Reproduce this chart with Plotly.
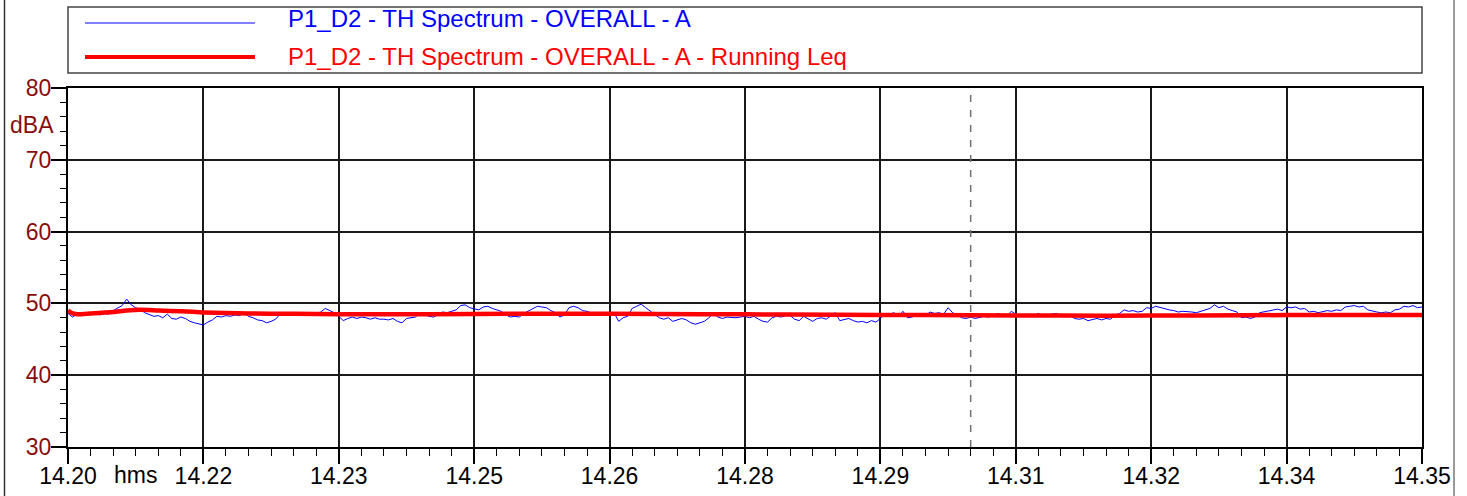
import plotly.graph_objects as go
import numpy as np

# ---------------- data ----------------
# time axis in minutes after 14:20:00 (0.05 min = 3 s steps)
blue_minute_values = [
    [48.6, 48.1, 48.5, 48.4, 48.6, 48.5, 48.7, 48.4, 48.6, 48.5, 49.0, 49.4, 49.7, 50.6, 49.8, 49.4, 49.2, 48.7, 48.4, 48.2],
    [48.3, 48.0, 48.5, 47.9, 47.8, 48.1, 47.9, 47.5, 47.3, 47.1, 47.0, 47.4, 47.7, 48.2, 48.1, 48.3, 48.2, 48.4, 48.3, 48.7],
    [48.2, 48.0, 47.7, 47.6, 47.3, 47.5, 47.8, 48.5, 48.7, 48.5, 48.4, 48.6, 48.5, 48.7, 48.5, 48.6, 48.8, 49.3, 49.0, 48.7],
    [48.2, 47.6, 47.9, 48.1, 47.9, 48.1, 48.0, 47.8, 48.0, 47.8, 47.8, 47.7, 47.9, 47.5, 47.3, 47.9, 48.0, 48.1, 48.7, 48.4],
    [48.2, 48.1, 48.5, 48.8, 48.7, 48.9, 49.1, 49.7, 49.8, 49.4, 49.3, 49.1, 49.5, 49.6, 49.3, 49.1, 48.9, 48.4, 48.1, 48.2],
    [48.1, 48.6, 48.9, 49.3, 49.6, 49.5, 49.4, 49.0, 48.7, 48.1, 48.4, 49.4, 49.6, 49.4, 49.0, 48.9, 48.6, 48.4, 48.5, 48.3],
    [48.5, 48.7, 47.5, 48.0, 48.2, 49.3, 49.6, 49.9, 49.4, 48.9, 48.4, 48.0, 47.8, 48.0, 47.5, 47.7, 47.9, 47.7, 47.3, 47.1],
    [47.3, 47.5, 48.0, 48.6, 48.1, 47.9, 48.1, 48.0, 48.0, 48.1, 48.2, 48.0, 48.2, 47.8, 47.5, 47.4, 48.0, 48.2, 48.1, 48.3],
    [48.3, 47.8, 47.6, 48.2, 47.9, 47.5, 47.9, 48.0, 47.8, 48.3, 48.7, 47.6, 47.7, 47.9, 47.6, 47.4, 47.5, 47.3, 47.6, 47.4],
    [47.9, 48.6, 48.5, 48.7, 48.2, 48.9, 48.0, 48.1, 48.4, 48.3, 48.3, 48.8, 48.6, 48.7, 48.5, 49.4, 48.7, 48.4, 48.0, 47.9],
    [48.1, 47.9, 48.0, 48.2, 48.1, 48.3, 48.6, 48.4, 48.2, 48.9, 48.5, 48.4, 48.3, 48.5, 48.3, 48.6, 48.3, 48.4, 48.5, 48.6],
    [48.3, 48.2, 48.3, 47.9, 47.8, 47.9, 47.6, 47.7, 47.9, 47.7, 47.9, 47.8, 48.4, 48.6, 49.1, 48.9, 49.0, 48.8, 48.9, 49.4],
    [49.3, 49.6, 49.4, 49.2, 49.1, 49.0, 48.8, 48.9, 48.9, 48.8, 48.7, 48.9, 49.1, 49.3, 49.8, 49.4, 49.6, 49.2, 49.0, 48.8],
    [48.0, 48.1, 47.9, 48.1, 48.7, 48.8, 48.9, 49.0, 49.2, 49.0, 49.5, 49.4, 49.5, 49.2, 49.3, 48.8, 48.9, 48.7, 48.8, 49.0],
    [48.9, 49.1, 49.0, 49.5, 49.6, 49.7, 49.5, 49.6, 49.1, 48.9, 48.8, 48.7, 48.8, 48.7, 49.1, 49.2, 49.6, 49.5, 49.7, 49.4],
]
blue_last_value = 49.5
blue_step_min = 0.05

leq_times = [0, 0.05, 0.1, 0.25, 0.5, 0.65, 0.8, 1.0, 1.25, 1.5, 2.0, 2.5, 3, 4, 5, 6, 7, 8, 9, 10, 11, 12, 13, 14, 15]
leq_values = [49.0, 48.6, 48.5, 48.6, 48.8, 49.0, 49.1, 49.0, 48.9, 48.75, 48.6, 48.55, 48.5, 48.5, 48.55, 48.55,
              48.5, 48.45, 48.4, 48.35, 48.3, 48.3, 48.35, 48.4, 48.4]

tick_minutes = [0, 1.5, 3, 4.5, 6, 7.5, 9, 10.5, 12, 13.5, 15]
tick_labels = ["14.20", "14.22", "14.23", "14.25", "14.26", "14.28", "14.29", "14.31", "14.32", "14.34", "14.35"]
cursor_minute = 10.0

series_names = ["P1_D2 - TH Spectrum - OVERALL - A",
                "P1_D2 - TH Spectrum - OVERALL - A - Running Leq"]

# ---------------- build ----------------
blue_values = [v for row in blue_minute_values for v in row] + [blue_last_value]
blue_times = [i * blue_step_min for i in range(len(blue_values))]

FONT = "Arial, Liberation Sans, sans-serif"
DARKRED = "#870d0d"
GRID = "#1a1a1a"

fig = go.Figure()
fig.add_trace(go.Scatter(x=blue_times, y=blue_values, mode="lines",
                         line=dict(color="#0000ff", width=1), name=series_names[0],
                         showlegend=False))
fig.add_trace(go.Scatter(x=leq_times, y=leq_values, mode="lines",
                         line=dict(color="#ff0000", width=4.5, shape="spline", smoothing=0.6),
                         name=series_names[1], showlegend=False))

W, H = 1467, 496
L, R, T, B = 68, 45, 88, 49
pw, ph = W - L - R, H - T - B


def px_x(x):
    return (x - L) / pw


def px_y(y):
    return (H - B - y) / ph


fig.update_layout(
    width=W, height=H,
    margin=dict(l=L, r=R, t=T, b=B, autoexpand=False),
    paper_bgcolor="white", plot_bgcolor="white",
    font=dict(family=FONT, size=23, color="black"),
    showlegend=False,
)

fig.update_xaxes(
    range=[0, 15], tickmode="array", tickvals=tick_minutes, ticktext=tick_labels,
    automargin=False,
    showgrid=True, gridcolor=GRID, gridwidth=2,
    showline=True, linecolor="black", linewidth=2, mirror=True,
    ticks="outside", ticklen=15, tickcolor="black", tickwidth=1.5,
    ticklabelstandoff=-8,
    tickfont=dict(family=FONT, size=23, color="black"),
    zeroline=False,
    minor=dict(tick0=0, dtick=0.25, ticks="outside", ticklen=7, tickcolor="black", tickwidth=1, showgrid=False),
)
fig.update_yaxes(
    range=[30, 80], tickmode="linear", tick0=0, dtick=10,
    automargin=False,
    showgrid=True, gridcolor=GRID, gridwidth=2,
    showline=True, linecolor="black", linewidth=2, mirror=True,
    ticks="outside", ticklen=15, tickcolor="black", tickwidth=1.5,
    ticklabelstandoff=-5,
    tickfont=dict(family=FONT, size=23, color=DARKRED),
    zeroline=False,
    minor=dict(tick0=0, dtick=2, ticks="outside", ticklen=6, tickcolor="black", tickwidth=1, showgrid=False),
)

# cursor line
fig.add_shape(type="line", xref="x", yref="paper", x0=cursor_minute, x1=cursor_minute, y0=0, y1=1,
              line=dict(color="#707070", width=1.5, dash="7px,8px"))

# legend box
fig.add_shape(type="rect", xref="paper", yref="paper", x0=0, x1=1, y0=px_y(73), y1=px_y(7),
              line=dict(color="#444444", width=1.5), fillcolor="white")
fig.add_shape(type="line", xref="paper", yref="paper", x0=px_x(85), x1=px_x(255), y0=px_y(23), y1=px_y(23),
              line=dict(color="#0000ff", width=1))
fig.add_shape(type="line", xref="paper", yref="paper", x0=px_x(85), x1=px_x(255), y0=px_y(57), y1=px_y(57),
              line=dict(color="#ff0000", width=4))
fig.add_annotation(xref="paper", yref="paper", x=px_x(286), y=px_y(18), xanchor="left", yanchor="middle",
                   text=series_names[0], showarrow=False, font=dict(family=FONT, size=24, color="#0000ff"))
fig.add_annotation(xref="paper", yref="paper", x=px_x(286), y=px_y(57), xanchor="left", yanchor="middle",
                   text=series_names[1], showarrow=False, font=dict(family=FONT, size=24, color="#ff0000"))

# unit labels
fig.add_annotation(xref="paper", yref="y", x=px_x(56), y=74.85, xanchor="right", yanchor="middle",
                   text="dBA", showarrow=False, font=dict(family=FONT, size=23, color=DARKRED))
fig.add_annotation(xref="x", yref="paper", x=0.75, y=px_y(475), xanchor="center", yanchor="middle",
                   text="hms", showarrow=False, font=dict(family=FONT, size=23, color="black"))

# outer frame edges
fig.add_shape(type="line", xref="paper", yref="paper", x0=px_x(4.5), x1=px_x(4.5), y0=px_y(H + 5), y1=px_y(-5),
              line=dict(color="#333333", width=1.5))
fig.add_shape(type="line", xref="paper", yref="paper", x0=px_x(1454), x1=px_x(1454), y0=px_y(H + 5), y1=px_y(-5),
              line=dict(color="#999999", width=2))

fig.write_html("out.html", config={"displayModeBar": False},
               post_script="document.body.style.margin='0';document.body.style.overflow='hidden';")
